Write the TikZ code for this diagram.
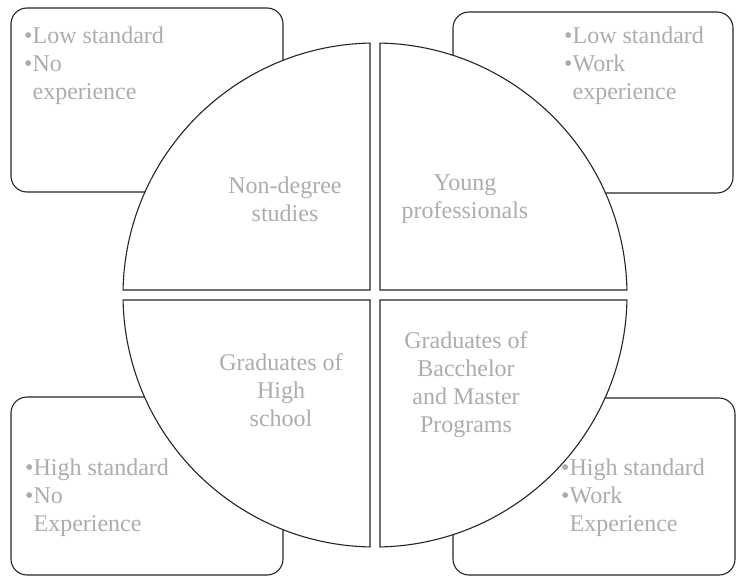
\documentclass[tikz,border=0pt]{standalone}
\usepackage{fontspec}
\setmainfont{Liberation Serif}
\usetikzlibrary{calc}
\begin{document}
\begin{tikzpicture}[x=1pt,y=-1pt,
  box/.style={draw=black!85,line width=1.1pt,rounded corners=16pt,fill=white},
  quad/.style={draw=black!85,line width=1.1pt,fill=white},
  txt/.style={text=black!32,font=\fontsize{24}{28}\selectfont,inner sep=0pt},
  boxtxt/.style={txt,align=left,anchor=north west},
  quadtxt/.style={txt,align=center}]
\useasboundingbox (0,0) rectangle (738,578);
% outer boxes
\draw[box] (11,8) rectangle (283,192);
\draw[box] (453,12) rectangle (733,193);
\draw[box] (11,397) rectangle (283,575);
\draw[box] (453,398) rectangle (735,575);
% quadrants
\coordinate (c) at (375,295);
\def\R{252}
\draw[quad] (370,290) -- ($(c)+(268.86:\R)$) arc[start angle=268.86,end angle=181.14,radius=\R] -- cycle;
\draw[quad] (380,290) -- ($(c)+(271.14:\R)$) arc[start angle=271.14,end angle=358.86,radius=\R] -- cycle;
\draw[quad] (370,300) -- ($(c)+(91.14:\R)$) arc[start angle=91.14,end angle=178.86,radius=\R] -- cycle;
\draw[quad] (380,300) -- ($(c)+(88.86:\R)$) arc[start angle=88.86,end angle=1.14,radius=\R] -- cycle;
% box texts
\node[boxtxt] (tl) at (24,27) {•Low standard\\•No\\\phantom{•}experience};
\node[boxtxt] (tr) at (564,27) {•Low standard\\•Work\\\phantom{•}experience};
\node[boxtxt] (bl) at (25,459) {•High standard\\•No\\\phantom{•}Experience};
\node[boxtxt] (br) at (561,459) {•High standard\\•Work\\\phantom{•}Experience};
% quadrant texts
\node[quadtxt] (q1) at (285,199) {Non-degree\\studies};
\node[quadtxt] (q2) at (465,199) {Young\\professionals};
\node[quadtxt] (q3) at (281,390) {Graduates of\\High\\school};
\node[quadtxt] (q4) at (466,385) {Graduates of\\Bacchelor\\and Master\\Programs};
\end{tikzpicture}
\end{document}
